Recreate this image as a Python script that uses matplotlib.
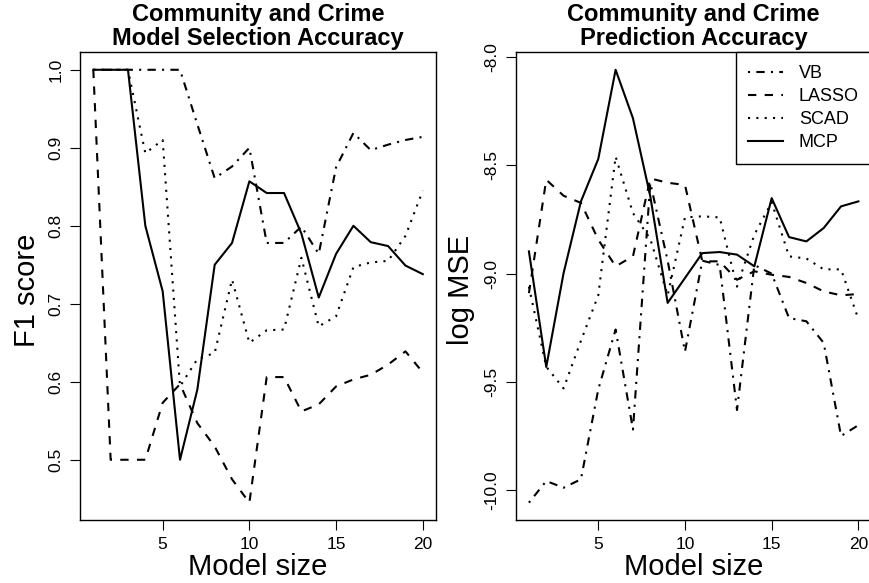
import numpy as np
import matplotlib.pyplot as plt
from matplotlib.ticker import FixedLocator

plt.rcParams['font.family'] = ['Liberation Sans', 'DejaVu Sans']
plt.rcParams['axes.unicode_minus'] = False

sizes = np.arange(1, 21)
methods = ['VB', 'LASSO', 'SCAD', 'MCP']

# F1 score of the selected model, per method
vb_f1 = [1.0, 1.0, 1.0, 1.0, 1.0, 1.0, 0.93, 0.861, 0.876, 0.90,
         0.778, 0.778, 0.799, 0.764, 0.875, 0.919, 0.897, 0.904, 0.910, 0.914]
lasso_f1 = [1.0, 0.5, 0.5, 0.5, 0.573, 0.597, 0.547, 0.517, 0.475, 0.445,
            0.606, 0.606, 0.562, 0.571, 0.594, 0.603, 0.609, 0.622, 0.639, 0.612]
scad_f1 = [1.0, 1.0, 1.0, 0.893, 0.910, 0.594, 0.629, 0.637, 0.731, 0.650,
           0.666, 0.667, 0.759, 0.671, 0.684, 0.747, 0.753, 0.755, 0.787, 0.845]
mcp_f1 = [1.0, 1.0, 1.0, 0.80, 0.716, 0.5, 0.59, 0.75, 0.778, 0.857,
          0.842, 0.842, 0.79, 0.708, 0.764, 0.80, 0.779, 0.774, 0.749, 0.738]

# log prediction MSE, per method
vb_mse = [-10.058, -9.958, -9.989, -9.95, -9.535, -9.258, -9.72, -8.58, -8.94, -9.36,
          -8.94, -8.96, -9.63, -8.96, -9.0, -9.205, -9.22, -9.32, -9.75, -9.70]
lasso_mse = [-9.09, -8.566, -8.64, -8.673, -8.843, -8.966, -8.92, -8.56, -8.58, -8.59,
             -8.943, -8.943, -9.028, -8.989, -9.005, -9.015, -9.043, -9.082, -9.1, -9.094]
scad_mse = [-9.06, -9.43, -9.53, -9.31, -9.1, -8.459, -8.72, -8.84, -9.1, -8.74,
            -8.735, -8.74, -9.06, -8.82, -8.67, -8.92, -8.93, -8.98, -8.98, -9.21]
mcp_mse = [-8.897, -9.431, -8.997, -8.666, -8.47, -8.058, -8.282, -8.643, -9.135, -9.02,
           -8.905, -8.90, -8.912, -8.966, -8.651, -8.831, -8.851, -8.789, -8.689, -8.666]

f1_ticks = [0.5, 0.6, 0.7, 0.8, 0.9, 1.0]
mse_ticks = [-10.0, -9.5, -9.0, -8.5, -8.0]
size_ticks = [5, 10, 15, 20]

# R style line types: dotdash, dashed, dotted, solid
styles = [(0, (1, 3, 4, 3)), (0, (4, 4)), (0, (1, 3)), '-']
LW = 1.5

W, H = 870, 583
fig = plt.figure(figsize=(W / 100, H / 100), dpi=100)
ax1 = fig.add_axes([0.0921, 0.1081, 0.4090, 0.8019])
ax2 = fig.add_axes([0.5928, 0.1081, 0.4090, 0.8019])


def panel(ax, series, yticks, lines, ylabel, ylab_x):
    for ys, ls, name in zip(series, styles, methods):
        ax.plot(sizes, ys, color='black', lw=LW, linestyle=ls, label=name)
    ax.margins(0.04)
    ax.xaxis.set_major_locator(FixedLocator(size_ticks))
    ax.yaxis.set_major_locator(FixedLocator(yticks))
    ax.tick_params(length=7, width=0.8, pad=5, labelsize=12.5)
    ax.tick_params(axis='y', labelrotation=90)
    for lab in ax.get_yticklabels():
        lab.set_va('center')
    for sp in ax.spines.values():
        sp.set_linewidth(1.0)

    # two-line bold title, then axis labels, all centred on the panel
    bb = ax.get_position()
    cx = (bb.x0 + bb.x1) / 2
    for txt, base in zip(lines, [20.7, 45]):
        fig.text(cx, 1 - base / H, txt, fontsize=17, fontweight='bold',
                 ha='center', va='baseline')
    fig.text(cx, 8 / H, 'Model size', fontsize=21, ha='center', va='baseline')
    fig.text(ylab_x / W, 1 - 290 / H, ylabel, fontsize=21, rotation=90,
             ha='center', va='center')


panel(ax1, [vb_f1, lasso_f1, scad_f1, mcp_f1], f1_ticks,
      ['Community and Crime', 'Model Selection Accuracy'], 'F1 score', 27)
panel(ax2, [vb_mse, lasso_mse, scad_mse, mcp_mse], mse_ticks,
      ['Community and Crime', 'Prediction Accuracy'], 'log MSE', 461)

leg = ax2.legend(loc='upper right', borderaxespad=0, fancybox=False, framealpha=1,
                 edgecolor='black', fontsize=13, handlelength=1.9, labelspacing=0.33,
                 handletextpad=0.9, borderpad=0.7)
leg.get_frame().set_linewidth(1.0)

fig.savefig('out.png', dpi=100)
